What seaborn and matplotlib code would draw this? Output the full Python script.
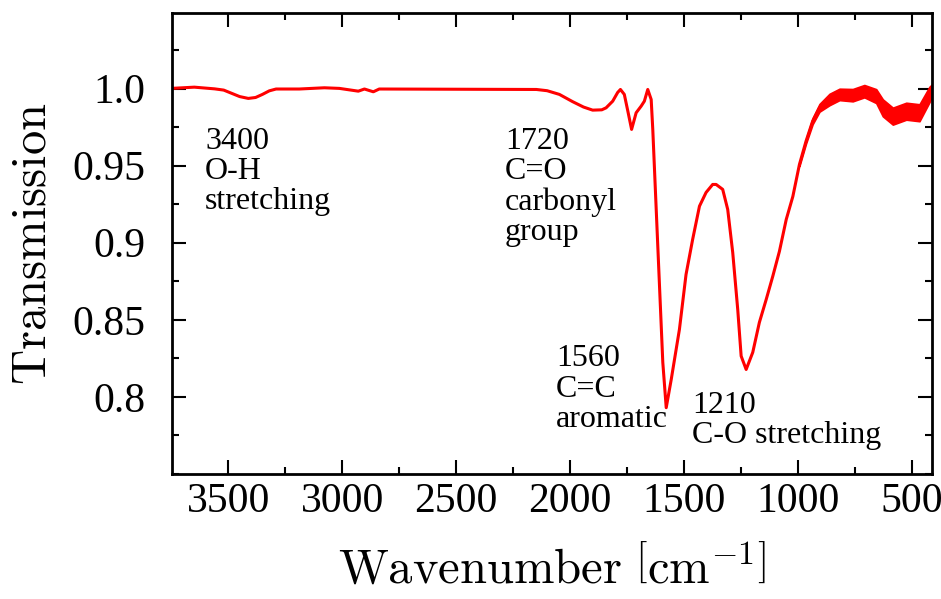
import numpy as np
import pandas as pd
import matplotlib
matplotlib.use("Agg")
import matplotlib.pyplot as plt
from matplotlib.ticker import FixedLocator, FixedFormatter, MultipleLocator
import seaborn as sns

# ---------------- data ----------------
wavenumber = [3750, 3649, 3560, 3520, 3480, 3450, 3412, 3380, 3350, 3320, 3290,
              3188, 3078, 3012, 2929, 2902, 2863, 2837, 2147, 2100, 2046, 1988,
              1940, 1900, 1860, 1841, 1812, 1790, 1778, 1761, 1745, 1729, 1709,
              1687, 1673, 1658, 1643, 1636, 1614, 1592, 1577, 1555, 1519, 1490,
              1461, 1431, 1402, 1373, 1358, 1329, 1307, 1285, 1263, 1248, 1226,
              1197, 1168, 1138, 1109, 1080, 1050, 1021, 992, 963, 934, 904, 860,
              816, 758, 707, 655, 626, 582, 523, 465, 421, 408]
transmission = [1.0001, 1.0009, 0.9998, 0.9990, 0.9966, 0.9948, 0.9936, 0.9942,
                0.9962, 0.9985, 0.9997, 0.9997, 1.0005, 1.0001, 0.9983, 0.9997,
                0.9979, 0.9997, 0.9994, 0.9986, 0.9962, 0.9915, 0.9880, 0.9860,
                0.9862, 0.9875, 0.9918, 0.9975, 0.9994, 0.9962, 0.9850, 0.9735,
                0.9843, 0.9886, 0.9918, 0.9994, 0.9929, 0.9735, 0.8978, 0.8224,
                0.7930, 0.8113, 0.8438, 0.8794, 0.9021, 0.9237, 0.9326, 0.9378,
                0.9378, 0.9346, 0.9216, 0.8937, 0.8567, 0.8265, 0.8178, 0.8289,
                0.8483, 0.8632, 0.8783, 0.8944, 0.9151, 0.9300, 0.9508, 0.9659,
                0.9789, 0.9875, 0.9929, 0.9962, 0.9957, 0.9983, 0.9951, 0.9875,
                0.9821, 0.9853, 0.9843, 0.9962, 0.9994]

# envelope of the noisy low-wavenumber region
band_wavenumber = [992, 963, 934, 904, 860, 816, 758, 707, 655, 626, 582, 523, 465, 421, 408]
band_upper = [0.9518, 0.9674, 0.9809, 0.9900, 0.9966, 0.9999, 0.9997, 1.0023,
              0.9996, 0.9930, 0.9876, 0.9908, 0.9898, 1.0012, 1.0030]
band_lower = [0.9498, 0.9644, 0.9769, 0.9850, 0.9892, 0.9925, 0.9917, 0.9943,
              0.9906, 0.9820, 0.9766, 0.9798, 0.9788, 0.9912, 0.9958]

x_ticks = [3500, 3000, 2500, 2000, 1500, 1000, 500]
x_tick_labels = ["3500", "3000", "2500", "2000", "1500", "1000", "500"]
y_ticks = [0.8, 0.85, 0.9, 0.95, 1.0]
y_tick_labels = ["0.8", "0.85", "0.9", "0.95", "1.0"]

annotation_texts = ["3400\nO-H\nstretching", "1720\nC=O\ncarbonyl\ngroup",
                    "1560\nC=C\naromatic", "1210\nC-O stretching"]
annotation_x = [3602, 2285, 2061, 1464]
annotation_y = [0.9752, 0.9752, 0.8340, 0.8040]

x_label = r"$\mathrm{Wavenumber}\ \left[\mathrm{cm}^{-1}\right]$"
y_label = r"$\mathrm{Transmission}$"

# ---------------- style ----------------
sns.set_style("ticks")
plt.rcParams["font.family"] = ["Liberation Serif", "DejaVu Serif"]
plt.rcParams["mathtext.fontset"] = "cm"
plt.rcParams["text.color"] = "black"
plt.rcParams["axes.labelcolor"] = "black"
plt.rcParams["xtick.color"] = "black"
plt.rcParams["ytick.color"] = "black"

df = pd.DataFrame({"wavenumber": wavenumber, "transmission": transmission})

fig = plt.figure(figsize=(9.41, 5.99), dpi=100)
ax = fig.add_axes([172 / 941, 1 - 474 / 599, (932 - 172) / 941, (474 - 13) / 599])

ax.fill_between(band_wavenumber, band_lower, band_upper, color="#ff0000", lw=1.2)
sns.lineplot(data=df, x="wavenumber", y="transmission", ax=ax, color="#ff0000",
             linewidth=2.2, sort=False)

ax.set_xlim(3747, 410)
ax.set_ylim(0.75, 1.049)

ax.xaxis.set_major_locator(FixedLocator(x_ticks))
ax.xaxis.set_major_formatter(FixedFormatter(x_tick_labels))
ax.xaxis.set_minor_locator(MultipleLocator(250))
ax.yaxis.set_major_locator(FixedLocator(y_ticks))
ax.yaxis.set_major_formatter(FixedFormatter(y_tick_labels))
ax.yaxis.set_minor_locator(MultipleLocator(0.025))

ax.tick_params(which="both", direction="in", top=True, right=True,
               color="black", labelcolor="black")
ax.tick_params(which="major", length=10, width=1.5)
ax.tick_params(which="minor", length=5, width=1.5)
ax.tick_params(axis="x", which="major", labelsize=30, pad=6)
ax.tick_params(axis="y", which="major", labelsize=30, pad=19)

for s in ax.spines.values():
    s.set_linewidth(2.0)
    s.set_color("black")

ax.set_xlabel(x_label, fontsize=35, labelpad=18, color="black")
ax.set_ylabel(y_label, fontsize=35, labelpad=12, color="black")

for t, x, y in zip(annotation_texts, annotation_x, annotation_y):
    ax.text(x, y, t, fontsize=23, ha="left", va="top", linespacing=1.05, color="black")

fig.savefig("out.png", dpi=100)
